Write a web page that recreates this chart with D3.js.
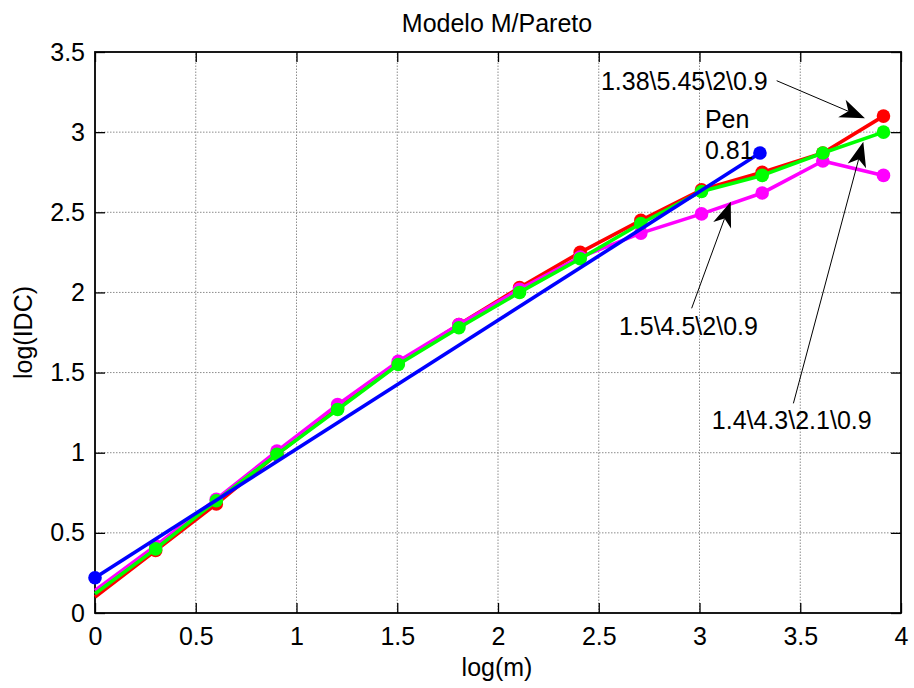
<!DOCTYPE html>
<html>
<head>
<meta charset="utf-8">
<script src="https://cdn.jsdelivr.net/npm/d3@7"></script>
<style>
body{margin:0;background:#fff;}
text{font-family:"Liberation Sans",Arial,sans-serif;fill:#000;}
</style>
</head>
<body>
<svg id="chart" width="914" height="688"></svg>
<script>
const logM = [0, 0.301, 0.602, 0.903, 1.204, 1.505, 1.806, 2.107, 2.408, 2.709, 3.010, 3.311, 3.612, 3.913];
const redVals = [0.10, 0.39, 0.68, 0.99, 1.28, 1.56, 1.80, 2.03, 2.25, 2.45, 2.64, 2.75, 2.87, 3.10];
const magentaVals = [0.14, 0.42, 0.71, 1.01, 1.30, 1.57, 1.80, 2.02, 2.22, 2.37, 2.49, 2.62, 2.82, 2.73];
const greenVals = [0.12, 0.40, 0.70, 0.99, 1.27, 1.55, 1.78, 2.00, 2.21, 2.43, 2.63, 2.73, 2.87, 3.00];
const blueX = [0, 3.30];
const blueVals = [0.22, 2.87];
const xTicks = [0, 0.5, 1, 1.5, 2, 2.5, 3, 3.5, 4];
const yTicks = [0, 0.5, 1, 1.5, 2, 2.5, 3, 3.5];
const annotations = [
  {text: "1.38\\5.45\\2\\0.9", tx: 2.511, ty: 3.263, from: [3.383, 3.321], to: [3.821, 3.086]},
  {text: "1.5\\4.5\\2\\0.9", tx: 2.600, ty: 1.734, from: [2.961, 1.901], to: [3.155, 2.566]},
  {text: "1.4\\4.3\\2.1\\0.9", tx: 3.061, ty: 1.146, from: [3.466, 1.308], to: [3.813, 2.940]}
];
const penLabel = ["Pen", "0.81"];
const penPos = [[3.027, 3.026], [3.027, 2.832]];

const svg = d3.select("#chart");
const x = d3.scaleLinear().domain([0, 4]).range([95, 901]);
const y = d3.scaleLinear().domain([0, 3.5]).range([613, 52]);
const FS = 25;

// grid
const g = svg.append("g");
g.selectAll(".gx").data(xTicks.slice(1, -1)).enter().append("line")
  .attr("x1", d => x(d)).attr("x2", d => x(d)).attr("y1", y(0)).attr("y2", y(3.5))
  .attr("stroke", "#8c8c8c").attr("stroke-width", 1).attr("stroke-dasharray", "1.5,1.5");
g.selectAll(".gy").data(yTicks.slice(1, -1)).enter().append("line")
  .attr("y1", d => y(d)).attr("y2", d => y(d)).attr("x1", x(0)).attr("x2", x(4))
  .attr("stroke", "#8c8c8c").attr("stroke-width", 1).attr("stroke-dasharray", "1.5,1.5");

// axes
const xAxis = d3.axisBottom(x).tickValues(xTicks).tickSize(-10).tickPadding(14).tickFormat(d3.format("~g"));
const yAxis = d3.axisLeft(y).tickValues(yTicks).tickSize(-10).tickPadding(10).tickFormat(d3.format("~g"));
const xTop = d3.axisTop(x).tickValues(xTicks).tickSize(-10).tickFormat("");
const yRight = d3.axisRight(y).tickValues(yTicks).tickSize(-10).tickFormat("");
function style(sel){
  sel.select(".domain").remove();
  sel.selectAll("line").attr("stroke", "#000").attr("stroke-width", 1.3);
  sel.selectAll("text").attr("font-size", FS).attr("font-family", "Liberation Sans, Arial, sans-serif").attr("fill", "#000");
}
svg.append("g").attr("transform", `translate(0,${y(0)})`).call(xAxis).call(style);
svg.append("g").attr("transform", `translate(${x(0)},0)`).call(yAxis).call(style);
svg.append("g").attr("transform", `translate(0,${y(3.5)})`).call(xTop).call(style);
svg.append("g").attr("transform", `translate(${x(4)},0)`).call(yRight).call(style);
svg.append("rect").attr("x", x(0)).attr("y", y(3.5)).attr("width", x(4) - x(0)).attr("height", y(0) - y(3.5))
  .attr("fill", "none").attr("stroke", "#000").attr("stroke-width", 1.8);

// series
const line = d3.line().x(d => x(d[0])).y(d => y(d[1]));
function series(xs, vals, color, markFrom){
  const pts = xs.map((v, i) => [v, vals[i]]);
  svg.append("path").datum(pts).attr("d", line).attr("fill", "none")
    .attr("stroke", color).attr("stroke-width", 3.6).attr("stroke-linejoin", "round");
  svg.append("g").selectAll("circle").data(pts.slice(markFrom)).enter().append("circle")
    .attr("cx", d => x(d[0])).attr("cy", d => y(d[1])).attr("r", 6.8).attr("fill", color);
}
series(logM, redVals, "#ff0000", 1);
series(logM, magentaVals, "#ff00ff", 1);
series(logM, greenVals, "#00ff00", 1);
series(blueX, blueVals, "#0000ff", 0);

// titles
svg.append("text").attr("x", 497).attr("y", 32).attr("text-anchor", "middle").attr("font-size", FS).text("Modelo M/Pareto");
svg.append("text").attr("x", 497).attr("y", 676).attr("text-anchor", "middle").attr("font-size", FS).text("log(m)");
svg.append("text").attr("transform", `translate(32,${(y(0) + y(3.5)) / 2}) rotate(-90)`).attr("text-anchor", "middle").attr("font-size", FS).text("log(IDC)");

// annotations
annotations.forEach(a => {
  svg.append("text").attr("x", x(a.tx)).attr("y", y(a.ty)).attr("font-size", FS).text(a.text);
  const x1 = x(a.from[0]), y1 = y(a.from[1]), x2 = x(a.to[0]), y2 = y(a.to[1]);
  const ang = Math.atan2(y2 - y1, x2 - x1);
  const L = 25, W = 9.5, N = 7;
  const ux = Math.cos(ang), uy = Math.sin(ang), px = -uy, py = ux;
  const bx = x2 - ux * L, by = y2 - uy * L;
  svg.append("line").attr("x1", x1).attr("y1", y1).attr("x2", x2 - ux * (L - N)).attr("y2", y2 - uy * (L - N))
    .attr("stroke", "#000").attr("stroke-width", 1);
  const head = [[x2, y2], [bx + px * W, by + py * W], [x2 - ux * (L - N), y2 - uy * (L - N)], [bx - px * W, by - py * W]];
  svg.append("path").attr("d", "M" + head.map(p => p.join(",")).join("L") + "Z").attr("fill", "#000");
});
penLabel.forEach((t, i) => {
  svg.append("text").attr("x", x(penPos[i][0])).attr("y", y(penPos[i][1])).attr("font-size", FS).text(t);
});
</script>
</body>
</html>
